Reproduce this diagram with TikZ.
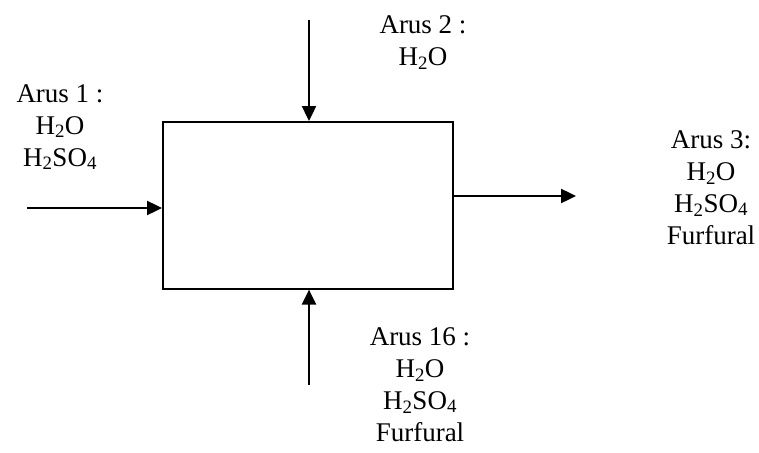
\documentclass[tikz,border=0pt]{standalone}
\usepackage{fontspec}
\setmainfont{Liberation Serif}
\usetikzlibrary{arrows.meta}
\begin{document}
\begin{tikzpicture}[x=1pt,y=-1pt,
  flow/.style={line width=2.4pt,-{Triangle[length=15pt,width=14pt]}},
  unit/.style={draw,line width=1.6pt,minimum width=290pt,minimum height=167pt,inner sep=0pt,anchor=north west},
  lbl/.style={align=center,inner sep=0pt,anchor=north,font=\fontsize{27}{32}\selectfont}]
\useasboundingbox (0,0) rectangle (759,452);
\node[unit] (box) at (162,121) {};
\coordinate (in1) at (27,208);
\coordinate (in2) at (309,20);
\coordinate (in16) at (309,385);
\coordinate (out3) at (576,196);
\draw[flow] (in1) -- (in1 -| box.west);
\draw[flow] (in2) -- (in2 |- box.north);
\draw[flow] (in16) -- (in16 |- box.south);
\draw[flow] (out3 -| box.east) -- (out3);
\node[lbl] (l1) at (60,84) {Arus 1 :\\H\textsubscript{2}O\\H\textsubscript{2}SO\textsubscript{4}};
\node[lbl] (l2) at (423,15) {Arus 2 :\\H\textsubscript{2}O};
\node[lbl] (l3) at (711,130) {Arus 3:\\H\textsubscript{2}O\\H\textsubscript{2}SO\textsubscript{4}\\Furfural};
\node[lbl] (l16) at (420,327) {Arus 16 :\\H\textsubscript{2}O\\H\textsubscript{2}SO\textsubscript{4}\\Furfural};
\end{tikzpicture}
\end{document}
